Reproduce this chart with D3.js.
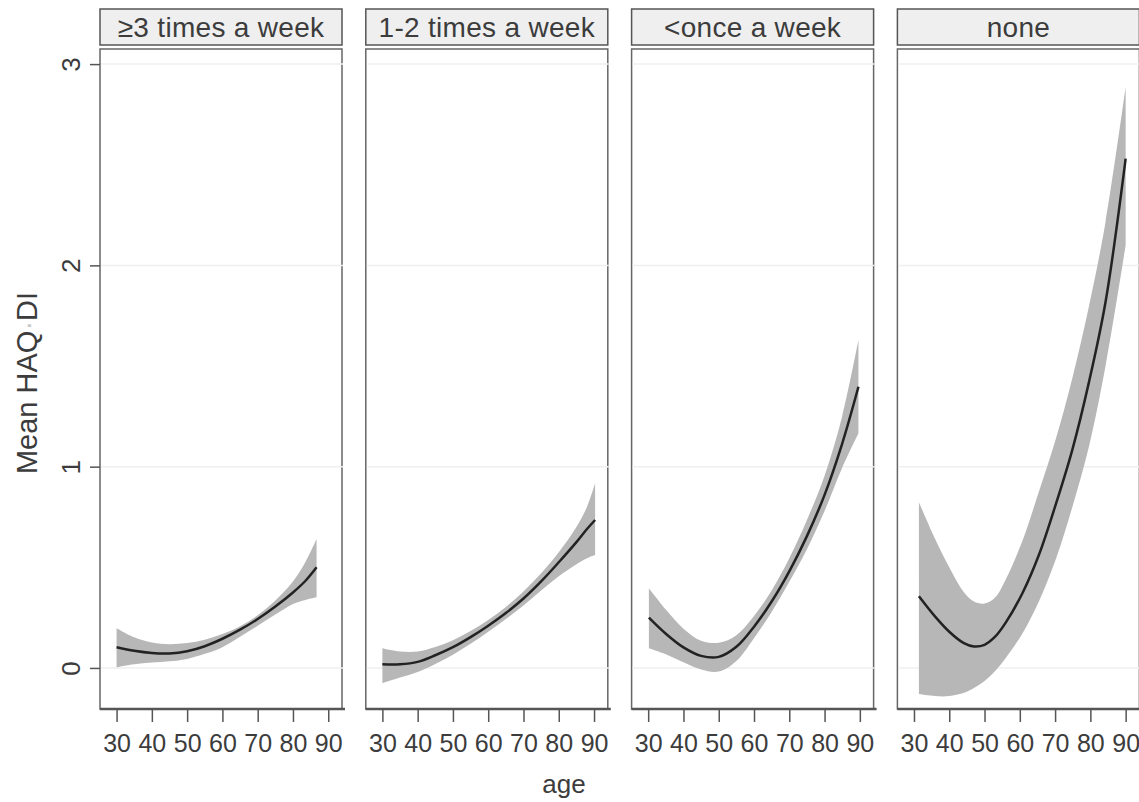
<!DOCTYPE html>
<html>
<head>
<meta charset="utf-8">
<script src="https://cdn.jsdelivr.net/npm/d3@7"></script>
<style>
  body { margin: 0; background: white; }
  svg { display: block; font-family: 'Liberation Sans', Arial, sans-serif; }
</style>
</head>
<body>
<svg id="chart" width="1139" height="802"></svg>
<script>
// facet labels
const panelNames = ['\u22653 times a week', '1-2 times a week', '<once a week', 'none']

// panel 1: >=3 times a week
const ages1 = [30, 35, 40, 45, 50, 55, 60, 65, 70, 75, 80, 83.5, 86.7]
const fit1 = [0.103, 0.085, 0.074, 0.072, 0.083, 0.108, 0.145, 0.19, 0.243, 0.305, 0.375, 0.432, 0.50]
const hi1 = [0.197, 0.152, 0.126, 0.118, 0.124, 0.14, 0.168, 0.207, 0.262, 0.335, 0.43, 0.525, 0.64]
const lo1 = [0.003, 0.018, 0.027, 0.033, 0.045, 0.07, 0.103, 0.155, 0.21, 0.265, 0.318, 0.338, 0.351]

// panel 2: 1-2 times a week
const ages2 = [30, 35, 40, 45, 50, 55, 60, 65, 70, 75, 80, 85, 88, 90.3]
const fit2 = [0.018, 0.018, 0.03, 0.063, 0.103, 0.153, 0.21, 0.273, 0.345, 0.43, 0.525, 0.625, 0.69, 0.735]
const hi2 = [0.098, 0.082, 0.082, 0.104, 0.138, 0.183, 0.238, 0.303, 0.38, 0.47, 0.575, 0.70, 0.80, 0.917]
const lo2 = [-0.076, -0.048, -0.02, 0.02, 0.066, 0.12, 0.18, 0.243, 0.31, 0.385, 0.455, 0.515, 0.545, 0.561]

// panel 3: <once a week
const ages3 = [30.2, 35, 40, 45, 50, 55, 60, 65, 70, 75, 80, 85, 89.6]
const fit3 = [0.25, 0.17, 0.102, 0.06, 0.055, 0.105, 0.205, 0.33, 0.48, 0.655, 0.86, 1.115, 1.397]
const hi3 = [0.396, 0.29, 0.195, 0.135, 0.125, 0.163, 0.258, 0.385, 0.545, 0.735, 0.955, 1.25, 1.629]
const lo3 = [0.098, 0.068, 0.028, -0.008, -0.018, 0.035, 0.148, 0.278, 0.428, 0.59, 0.78, 0.995, 1.166]

// panel 4: none
const ages4 = [31.4, 36, 40, 44, 47, 50, 53, 56, 60.7, 65.4, 70.2, 74.9, 79.6, 84.3, 90]
const fit4 = [0.356, 0.255, 0.18, 0.125, 0.107, 0.115, 0.155, 0.225, 0.37, 0.561, 0.813, 1.085, 1.42, 1.818, 2.53]
const hi4 = [0.823, 0.64, 0.5, 0.38, 0.33, 0.32, 0.35, 0.44, 0.63, 0.875, 1.137, 1.441, 1.797, 2.216, 2.886]
const lo4 = [-0.13, -0.14, -0.14, -0.125, -0.1, -0.065, -0.015, 0.05, 0.17, 0.33, 0.54, 0.80, 1.10, 1.50, 2.10]

const xTicks = [30, 40, 50, 60, 70, 80, 90]
const yTicks = [0, 1, 2, 3]

const series = [
  { ages: ages1, fit: fit1, hi: hi1, lo: lo1 },
  { ages: ages2, fit: fit2, hi: hi2, lo: lo2 },
  { ages: ages3, fit: fit3, hi: hi3, lo: lo3 },
  { ages: ages4, fit: fit4, hi: hi4, lo: lo4 }
]

const svg = d3.select('#chart')

const firstLeft = 100
const panelStep = 265.8
const panelW = 242
const plotTop = 49
const plotBottom = 709
const headTop = 9
const headH = 36
const textColor = '#3c3c3c'

const x = d3.scaleLinear().domain([25.3, 93.9]).range([0, panelW])
const y = d3.scaleLinear().domain([-0.204, 3.075]).range([plotBottom, plotTop])

function drawPanel (i) {
  const s = series[i]
  const rows = s.ages.map((a, k) => ({ age: a, fit: s.fit[k], hi: s.hi[k], lo: s.lo[k] }))
  const g = svg.append('g').attr('transform', `translate(${firstLeft + i * panelStep},0)`)

  // strip header
  g.append('rect')
    .attr('x', 0).attr('y', headTop)
    .attr('width', panelW).attr('height', headH)
    .style('fill', '#efefef')
    .style('stroke', '#555')
    .style('stroke-width', 1.5)
  g.append('text')
    .attr('x', panelW / 2).attr('y', headTop + 28)
    .attr('text-anchor', 'middle')
    .style('font-size', '28px')
    .style('letter-spacing', '0.3px')
    .style('fill', textColor)
    .text(panelNames[i])

  // plot frame
  g.append('rect')
    .attr('x', 0).attr('y', plotTop)
    .attr('width', panelW).attr('height', plotBottom - plotTop)
    .style('fill', 'white')
    .style('stroke', '#666')
    .style('stroke-width', 1.5)

  // faint grid lines, drawn over the frame like in the original
  g.selectAll('.grid')
    .data(yTicks)
    .enter().append('line')
    .attr('class', 'grid')
    .attr('x1', 1).attr('x2', panelW + 1)
    .attr('y1', d => y(d)).attr('y2', d => y(d))
    .style('stroke', '#efefef')
    .style('stroke-width', 1.5)

  // confidence band
  const band = d3.area()
    .x(d => x(d.age))
    .y0(d => y(d.lo))
    .y1(d => y(d.hi))
    .curve(d3.curveCatmullRom.alpha(0.5))
  g.append('path')
    .datum(rows)
    .attr('d', band)
    .style('fill', '#b7b7b7')
    .style('stroke', 'none')

  // fitted mean
  const line = d3.line()
    .x(d => x(d.age))
    .y(d => y(d.fit))
    .curve(d3.curveCatmullRom.alpha(0.5))
  g.append('path')
    .datum(rows)
    .attr('d', line)
    .style('fill', 'none')
    .style('stroke', '#222')
    .style('stroke-width', 2.5)

  // x axis
  const xAxis = g.append('g')
    .attr('transform', `translate(0,${plotBottom})`)
    .call(d3.axisBottom(x).tickValues(xTicks).tickSize(13).tickSizeOuter(0).tickPadding(12))
  xAxis.select('.domain')
    .attr('d', `M0,0H${panelW + 3}`)
    .style('stroke', '#555')
    .style('stroke-width', 2.5)
  xAxis.selectAll('.tick line').style('stroke', '#555').style('stroke-width', 1.5)
  xAxis.selectAll('.tick text')
    .style('font-size', '25px')
    .style('font-family', "'Liberation Sans', Arial, sans-serif")
    .style('fill', textColor)

  if (i === 0) {
    const yAxis = g.append('g')
      .call(d3.axisLeft(y).tickValues(yTicks).tickFormat(d3.format('d')).tickSize(10).tickSizeOuter(0))
    yAxis.select('.domain').remove()
    yAxis.selectAll('.tick line').style('stroke', '#555').style('stroke-width', 1.5)
    yAxis.selectAll('.tick text')
      .attr('x', 0).attr('y', 0).attr('dy', 0)
      .attr('text-anchor', 'middle')
      .attr('transform', 'translate(-20,0) rotate(-90)')
      .style('font-size', '26px')
      .style('font-family', "'Liberation Sans', Arial, sans-serif")
      .style('fill', textColor)
  }
}

for (let i = 0; i < series.length; i++) drawPanel(i)

// axis titles
const yTitle = svg.append('text')
  .attr('transform', 'translate(37,383) rotate(-90)')
  .attr('text-anchor', 'middle')
  .style('font-size', '29px')
  .style('fill', textColor)
yTitle.append('tspan').text('Mean HAQ')
yTitle.append('tspan').style('fill', '#c8c8c8').text('\u00b7')
yTitle.append('tspan').text('DI')

svg.append('text')
  .attr('x', 564).attr('y', 793)
  .attr('text-anchor', 'middle')
  .style('font-size', '26px')
  .style('fill', textColor)
  .text('age')
</script>
</body>
</html>
